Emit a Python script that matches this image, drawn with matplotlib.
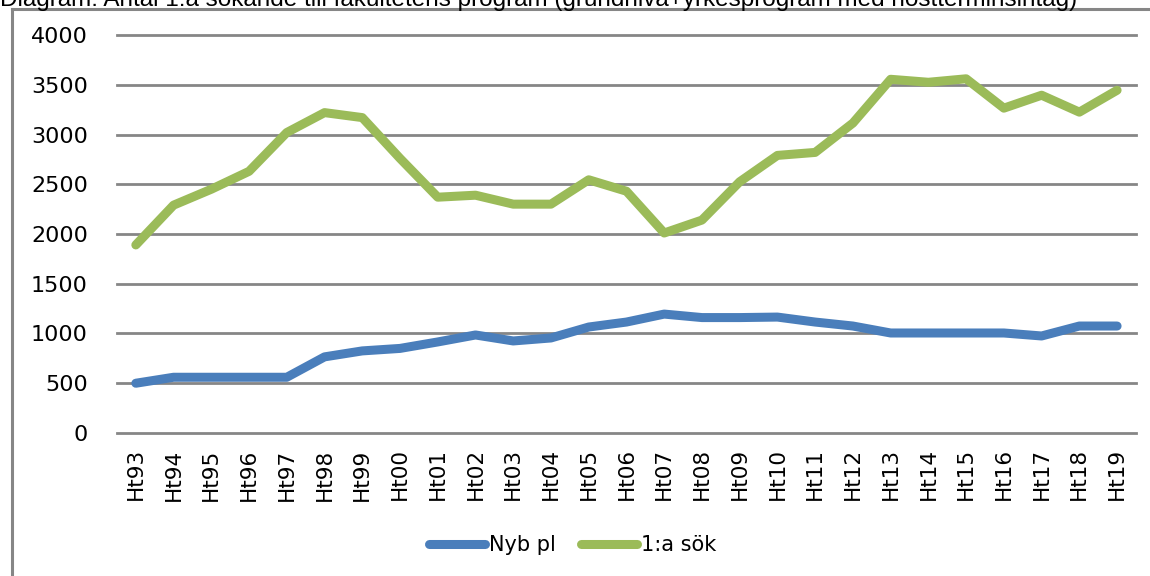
import matplotlib.pyplot as plt
from matplotlib.lines import Line2D

# Hösttermin labels and values
terms = ['Ht93', 'Ht94', 'Ht95', 'Ht96', 'Ht97', 'Ht98', 'Ht99', 'Ht00', 'Ht01',
         'Ht02', 'Ht03', 'Ht04', 'Ht05', 'Ht06', 'Ht07', 'Ht08', 'Ht09', 'Ht10',
         'Ht11', 'Ht12', 'Ht13', 'Ht14', 'Ht15', 'Ht16', 'Ht17', 'Ht18', 'Ht19']
nyb_pl = [500, 560, 560, 560, 560, 765, 825, 850, 915, 985, 925, 955, 1065, 1115,
          1195, 1160, 1160, 1165, 1115, 1075, 1005, 1005, 1005, 1005, 975, 1075, 1075]
forsta_sok = [1890, 2290, 2450, 2630, 3020, 3220, 3170, 2760, 2370, 2390, 2300, 2300,
              2545, 2430, 2010, 2140, 2525, 2790, 2820, 3115, 3555, 3525, 3560, 3265,
              3395, 3225, 3445]
yticks = [0, 500, 1000, 1500, 2000, 2500, 3000, 3500, 4000]

blue = '#4a7ebb'
green = '#9bbb59'
gray = '#868686'

fig = plt.figure(figsize=(11.5, 5.76), dpi=100)
ax = fig.add_axes([0.1017, 0.2483, 0.8861, 0.6909])

x = range(len(terms))
ax.plot(x, nyb_pl, color=blue, lw=6.5, solid_capstyle='round', solid_joinstyle='round', label='Nyb pl')
ax.plot(x, forsta_sok, color=green, lw=6.5, solid_capstyle='round', solid_joinstyle='round', label='1:a sök')

ax.set_xlim(-0.5, len(terms) - 0.5)
ax.set_ylim(0, 4000)
ax.set_yticks(yticks)
ax.set_yticklabels([str(v) for v in yticks], fontsize=16)
ax.set_xticks(list(x))
ax.set_xticklabels(terms, rotation=90, fontsize=15.5)
ax.tick_params(axis='both', length=0)
ax.tick_params(axis='y', pad=21)
ax.tick_params(axis='x', pad=11)
for v in yticks:
    ax.axhline(v, color=gray, lw=2, zorder=0, clip_on=False)
for s in ax.spines.values():
    s.set_visible(False)

fig.legend(loc='center', bbox_to_anchor=(0.498, 0.054), ncol=2, frameon=False,
           fontsize=15, handlelength=2.7, handletextpad=0.2, columnspacing=1.2)

# outer frame (left and top edges visible)
fig.add_artist(Line2D([12/1150, 12/1150], [0, 1 - 9/576], color=gray, lw=2.2, transform=fig.transFigure))
fig.add_artist(Line2D([12/1150, 1], [1 - 9/576, 1 - 9/576], color=gray, lw=2.2, transform=fig.transFigure))

# title, cut off at the top edge as in the original
fig.text(0.0, 1.003, 'Diagram: Antal 1:a sökande till fakultetens program (grundnivå+yrkesprogram med höstterminsintag)',
         fontsize=17.5, family='Liberation Sans', ha='left', va='center')

fig.savefig('out.png', dpi=100)
